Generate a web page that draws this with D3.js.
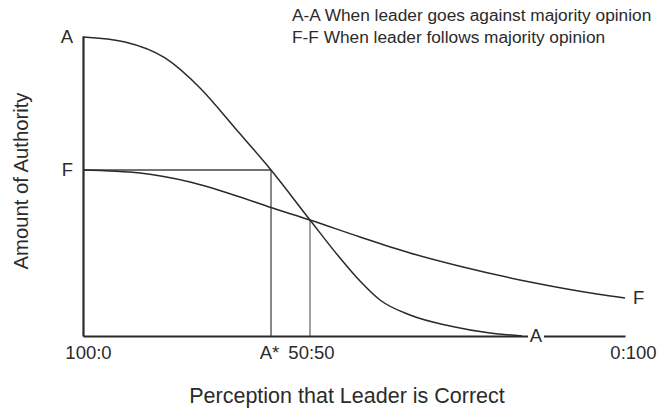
<!DOCTYPE html>
<html>
<head>
<meta charset="utf-8">
<script src="https://cdn.jsdelivr.net/npm/d3@7"></script>
<style>
  body { margin: 0; background: #fff; }
  text { font-family: "Liberation Sans", Arial, sans-serif; fill: #2b2b2b; }
</style>
</head>
<body>
<div id="chart"></div>
<script>
// A-A curve (leader goes against majority), x = perception, y = authority
var xA = [0, 7.75, 15.13, 21.59, 28.04, 34.69, 41.88, 47.42, 51.11, 54.8, 60.33, 67.71, 75.09, 81];
var yA = [99.67, 98, 92.67, 82.67, 69.33, 55.33, 38.67, 26, 18.33, 12, 7, 3.33, 1, 0];

// F-F curve (leader follows majority)
var xF = [0, 10.52, 19.74, 28.97, 34.69, 41.88, 51.11, 60.33, 70.11, 82.47, 94.83, 100];
var yF = [55.33, 54.33, 51.33, 46.33, 42.83, 38.67, 33, 27.67, 23, 18, 14, 12.67];

// markers: A* point and the 50:50 crossing
var aStar = { x: 34.69, y: 55.33 };
var cross = { x: 41.88, y: 38.67 };

// axis labels
var xTickValues = [0, 34.69, 41.88, 100];
var xTickLabels = ['100:0', 'A*', '50:50', '0:100'];
var yTickValues = [99.67, 55.33];
var yTickLabels = ['A', 'F'];

var legendLines = [
  'A-A When leader goes against majority opinion',
  'F-F When leader follows majority opinion'
];

var width = 659;
var height = 409;
var margin = { top: 36, right: 34, bottom: 73, left: 83 };

var svg = d3.select('#chart')
  .append('svg')
  .attr('width', width)
  .attr('height', height);

//set scales
var xScale = d3.scaleLinear()
  .domain([0, 100])
  .range([margin.left, width - margin.right]);

var yScale = d3.scaleLinear()
  .domain([0, 100])
  .range([height - margin.bottom, margin.top]);

function toPoints(xs, ys) {
  return xs.map(function (d, i) { return { x: d, y: ys[i] }; });
}

var line = d3.line()
  .x(function (d) { return xScale(d.x); })
  .y(function (d) { return yScale(d.y); })
  .curve(d3.curveMonotoneX);

//guide lines
var guides = svg.append('g').attr('class', 'guides');

guides.append('line')
  .attr('x1', xScale(0)).attr('x2', xScale(aStar.x))
  .attr('y1', yScale(aStar.y)).attr('y2', yScale(aStar.y))
  .attr('stroke', '#444').attr('stroke-width', 1.4);

guides.selectAll('line.v')
  .data([aStar, cross])
  .enter()
  .append('line')
  .attr('class', 'v')
  .attr('x1', function (d) { return xScale(d.x); })
  .attr('x2', function (d) { return xScale(d.x); })
  .attr('y1', yScale(0))
  .attr('y2', function (d) { return yScale(d.y); })
  .attr('stroke', function (d, i) { return i ? '#777' : '#555'; })
  .attr('stroke-width', 1.4);

//curves
svg.append('path')
  .attr('d', line(toPoints(xA, yA)))
  .attr('fill', 'none')
  .attr('stroke', '#2a2a2a')
  .attr('stroke-width', 1.5);

svg.append('path')
  .attr('d', line(toPoints(xF, yF)))
  .attr('fill', 'none')
  .attr('stroke', '#2a2a2a')
  .attr('stroke-width', 1.5);

//x axis
var axisX = d3.axisBottom(xScale)
  .tickValues(xTickValues)
  .tickSize(0)
  .tickSizeOuter(0)
  .tickPadding(10)
  .tickFormat(function (d, i) { return xTickLabels[i]; });

var gx = svg.append('g')
  .attr('transform', 'translate(0,' + yScale(0) + ')')
  .call(axisX);

gx.select('.domain').attr('stroke', '#2a2a2a').attr('stroke-width', 2.2);
gx.selectAll('text')
  .attr('font-size', 18.5)
  .attr('fill', '#2b2b2b')
  .attr('dx', function (d, i) { return i === 0 ? 5 : i === 3 ? 8 : i === 1 ? -2 : 1; });

//y axis
var axisY = d3.axisLeft(yScale)
  .tickValues(yTickValues)
  .tickSize(0)
  .tickSizeOuter(0)
  .tickPadding(10)
  .tickFormat(function (d, i) { return yTickLabels[i]; });

var gy = svg.append('g')
  .attr('transform', 'translate(' + xScale(0) + ',0)')
  .call(axisY);

gy.select('.domain').attr('stroke', '#2a2a2a').attr('stroke-width', 2.2);
gy.selectAll('text')
  .attr('font-size', 18.5)
  .attr('fill', '#2b2b2b');

//end labels on the curves
var endA = { x: xA[xA.length - 1], y: yA[yA.length - 1] };
var endF = { x: xF[xF.length - 1], y: yF[yF.length - 1] };

svg.append('rect')
  .attr('x', xScale(endA.x) + 6)
  .attr('y', yScale(endA.y) - 4)
  .attr('width', 16)
  .attr('height', 8)
  .attr('fill', '#fff');

svg.append('text')
  .attr('x', xScale(endA.x) + 14)
  .attr('y', yScale(endA.y))
  .attr('dy', '0.35em')
  .attr('text-anchor', 'middle')
  .attr('font-size', 18.5)
  .text('A');

svg.append('text')
  .attr('x', xScale(endF.x) + 8)
  .attr('y', yScale(endF.y))
  .attr('dy', '0.35em')
  .attr('font-size', 18.5)
  .text('F');

//axis titles
svg.append('text')
  .attr('x', 347)
  .attr('y', 403)
  .attr('text-anchor', 'middle')
  .attr('font-size', 21.5)
  .text('Perception that Leader is Correct');

svg.append('text')
  .attr('transform', 'translate(28,181) rotate(-90)')
  .attr('text-anchor', 'middle')
  .attr('font-size', 20.3)
  .text('Amount of Authority');

//legend
svg.append('g')
  .selectAll('text')
  .data(legendLines)
  .enter()
  .append('text')
  .attr('x', 292)
  .attr('y', function (d, i) { return 21 + i * 22; })
  .attr('font-size', 17.3)
  .text(function (d) { return d; });
</script>
</body>
</html>
